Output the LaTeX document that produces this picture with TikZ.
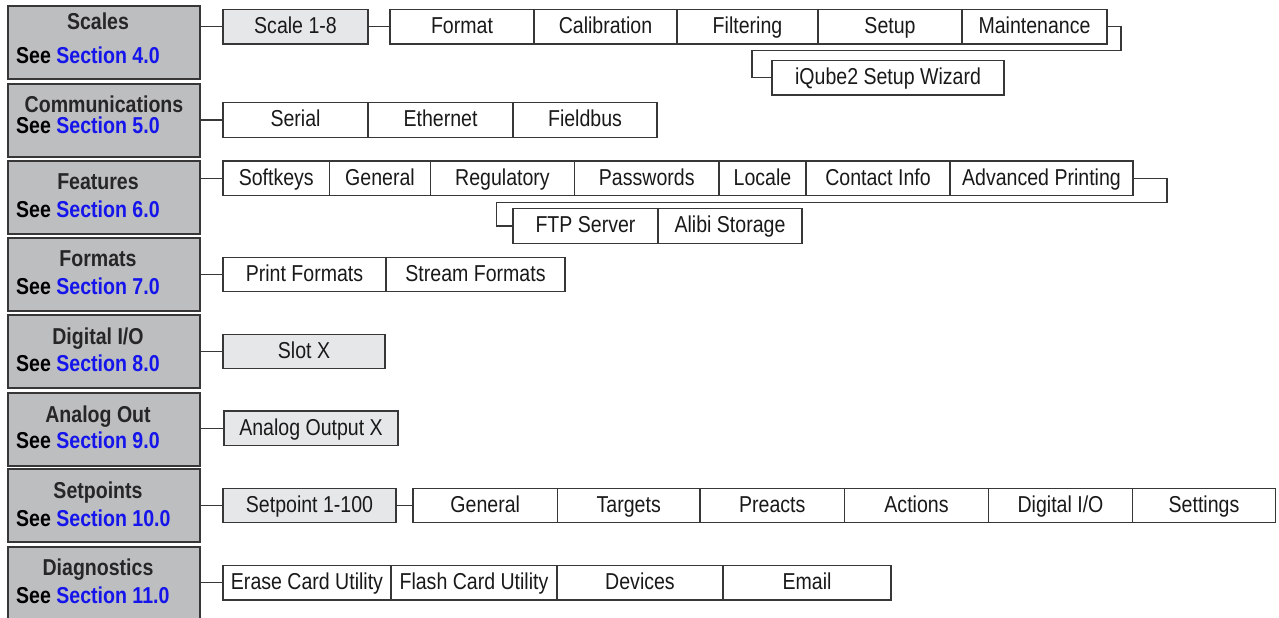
\documentclass[tikz,border=0pt]{standalone}
\usepackage{fontspec}
\setmainfont{Liberation Sans}[FakeStretch=0.85]
\usetikzlibrary{positioning}

\definecolor{catgray}{RGB}{188,190,192}
\definecolor{subgray}{RGB}{230,231,232}
\definecolor{edgegray}{RGB}{55,55,55}
\definecolor{linkblue}{RGB}{20,20,235}

\tikzset{
  catbox/.style={draw=edgegray, line width=1.4pt, fill=catgray, minimum width=192pt,
    minimum height=73pt, inner sep=0pt, outer sep=0pt},
  cattitle/.style={font=\fontsize{23}{27}\selectfont\bfseries, text=black!85,
    inner sep=0pt, text height=16.5pt, text depth=0pt},
  catref/.style={font=\fontsize{23}{27}\selectfont\bfseries, anchor=west,
    inner sep=0pt, text height=16.5pt, text depth=0pt},
  menubox/.style={draw=edgegray, line width=1.3pt, fill=white, minimum height=34.5pt,
    inner sep=0pt, outer sep=0pt, text height=16.5pt, text depth=3pt,
    font=\fontsize{23}{27}\selectfont, text=black!90},
  subbox/.style={menubox, fill=subgray},
  link/.style={draw=edgegray, line width=1.3pt},
}

\newcommand{\seesec}[1]{See \textcolor{linkblue}{Section #1}}

\begin{document}
\begin{tikzpicture}[x=1pt,y=-1pt]
  \useasboundingbox (0,0) rectangle (1279,618);

  % left column
  \node [catbox] (scales) at (104,42.5) {};
  \node [cattitle] (scalesT) at ([xshift=-6pt,yshift=-15.5pt]scales.north) {Scales};
  \node [catref] (scalesS) at ([xshift=8pt,yshift=-49pt]scales.north west) {\seesec{4.0}};

  \node [catbox] (comm) at (104,120.5) {};
  \node [cattitle] (commT) at ([yshift=-20pt]comm.north) {Communications};
  \node [catref] (commS) at ([xshift=8pt,yshift=-41pt]comm.north west) {\seesec{5.0}};

  \node [catbox] (feat) at (104,197.5) {};
  \node [cattitle] (featT) at ([xshift=-6pt,yshift=-20pt]feat.north) {Features};
  \node [catref] (featS) at ([xshift=8pt,yshift=-48pt]feat.north west) {\seesec{6.0}};

  \node [catbox] (form) at (104,274.5) {};
  \node [cattitle] (formT) at ([xshift=-6pt,yshift=-20pt]form.north) {Formats};
  \node [catref] (formS) at ([xshift=8pt,yshift=-48pt]form.north west) {\seesec{7.0}};

  \node [catbox] (dig) at (104,351.5) {};
  \node [cattitle] (digT) at ([xshift=-6pt,yshift=-21pt]dig.north) {Digital I/O};
  \node [catref] (digS) at ([xshift=8pt,yshift=-48pt]dig.north west) {\seesec{8.0}};

  \node [catbox] (ana) at (104,429.5) {};
  \node [cattitle] (anaT) at ([xshift=-6pt,yshift=-21pt]ana.north) {Analog Out};
  \node [catref] (anaS) at ([xshift=8pt,yshift=-47pt]ana.north west) {\seesec{9.0}};

  \node [catbox] (setp) at (104,505.5) {};
  \node [cattitle] (setpT) at ([xshift=-6pt,yshift=-21pt]setp.north) {Setpoints};
  \node [catref] (setpS) at ([xshift=8pt,yshift=-49pt]setp.north west) {\seesec{10.0}};

  \node [catbox] (diag) at (104,583.5) {};
  \node [cattitle] (diagT) at ([xshift=-6pt,yshift=-20pt]diag.north) {Diagnostics};
  \node [catref] (diagS) at ([xshift=8pt,yshift=-48pt]diag.north west) {\seesec{11.0}};

  % scales
  \node [subbox, minimum width=145pt, anchor=west] (scl) at (223,26.7) {Scale 1-8};
  \node [menubox, minimum width=144pt, anchor=west] (fmt) at (390,26.7) {Format};
  \node [menubox, minimum width=143pt, right=0pt of fmt] (cal) {Calibration};
  \node [menubox, minimum width=141pt, right=0pt of cal] (fil) {Filtering};
  \node [menubox, minimum width=144pt, right=0pt of fil] (stp) {Setup};
  \node [menubox, minimum width=145pt, right=0pt of stp] (mnt) {Maintenance};
  \node [menubox, minimum width=232pt, anchor=west] (wiz) at (772,77.8) {iQube2 Setup Wizard};
  \coordinate (wizbend) at (752,50.7);
  \draw [link] (scl.west -| scales.east) -- (scl.west);
  \draw [link] (scl.east) -- (fmt.west);
  \draw [link] (mnt.east) -- ++(14,0) |- (wizbend) |- (wiz.west);

  % communications
  \node [menubox, minimum width=145pt, anchor=west] (ser) at (223,120) {Serial};
  \node [menubox, minimum width=145pt, right=0pt of ser] (eth) {Ethernet};
  \node [menubox, minimum width=144pt, right=0pt of eth] (fld) {Fieldbus};
  \draw [link] (ser.west -| comm.east) -- (ser.west);

  % features
  \node [menubox, minimum width=106.5pt, anchor=west] (sfk) at (223,178.3) {Softkeys};
  \node [menubox, minimum width=101pt, right=0pt of sfk] (gen) {General};
  \node [menubox, minimum width=144pt, right=0pt of gen] (reg) {Regulatory};
  \node [menubox, minimum width=144.5pt, right=0pt of reg] (pwd) {Passwords};
  \node [menubox, minimum width=87pt, right=0pt of pwd] (loc) {Locale};
  \node [menubox, minimum width=144pt, right=0pt of loc] (cnt) {Contact Info};
  \node [menubox, minimum width=183pt, right=0pt of cnt] (adv) {Advanced Printing};
  \node [menubox, minimum width=145pt, anchor=west] (ftp) at (513,226) {FTP Server};
  \node [menubox, minimum width=144pt, right=0pt of ftp] (ali) {Alibi Storage};
  \coordinate (ftpbend) at (496.7,202.3);
  \draw [link] (sfk.west -| feat.east) -- (sfk.west);
  \draw [link] (adv.east) -- ++(34,0) |- (ftpbend) |- (ftp.west);

  % formats
  \node [menubox, minimum width=163pt, anchor=west] (prt) at (223,274.5) {Print Formats};
  \node [menubox, minimum width=179pt, right=0pt of prt] (str) {Stream Formats};
  \draw [link] (prt.west -| form.east) -- (prt.west);

  % digital i/o
  \node [subbox, minimum width=162pt, anchor=west] (slt) at (223,351.5) {Slot X};
  \draw [link] (slt.west -| dig.east) -- (slt.west);

  % analog out
  \node [subbox, minimum width=174pt, anchor=west] (aox) at (224,428.3) {Analog Output X};
  \draw [link] (aox.west -| ana.east) -- (aox.west);

  % setpoints
  \node [subbox, minimum width=173pt, anchor=west] (spt) at (223,505.5) {Setpoint 1-100};
  \node [menubox, minimum width=144.5pt, anchor=west] (gns) at (413,505.5) {General};
  \node [menubox, minimum width=142.5pt, right=0pt of gns] (tgt) {Targets};
  \node [menubox, minimum width=144.5pt, right=0pt of tgt] (prc) {Preacts};
  \node [menubox, minimum width=144pt, right=0pt of prc] (act) {Actions};
  \node [menubox, minimum width=144pt, right=0pt of act] (dio) {Digital I/O};
  \node [menubox, minimum width=143pt, right=0pt of dio] (sts) {Settings};
  \draw [link] (spt.west -| setp.east) -- (spt.west);
  \draw [link] (spt.east) -- (gns.west);

  % diagnostics
  \node [menubox, minimum width=168pt, anchor=west] (ers) at (223,582.8) {Erase Card Utility};
  \node [menubox, minimum width=166pt, right=0pt of ers] (fls) {Flash Card Utility};
  \node [menubox, minimum width=166pt, right=0pt of fls] (dev) {Devices};
  \node [menubox, minimum width=168pt, right=0pt of dev] (eml) {Email};
  \draw [link] (ers.west -| diag.east) -- (ers.west);
\end{tikzpicture}
\end{document}
